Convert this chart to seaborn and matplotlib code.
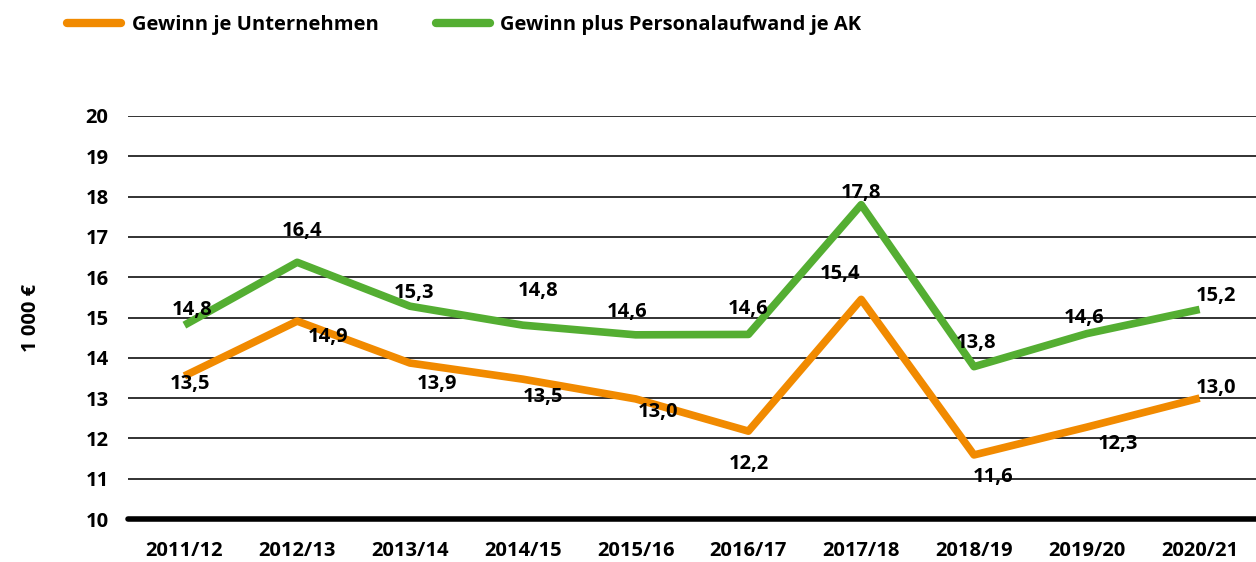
import pandas as pd
import numpy as np
import matplotlib.pyplot as plt
import seaborn as sns

jahre = ["2011/12", "2012/13", "2013/14", "2014/15", "2015/16",
         "2016/17", "2017/18", "2018/19", "2019/20", "2020/21"]
gewinn_unternehmen = [13.55, 14.91, 13.87, 13.47, 12.98, 12.18, 15.45, 11.59, 12.28, 13.0]
gewinn_personal = [14.81, 16.37, 15.28, 14.81, 14.57, 14.58, 17.8, 13.78, 14.6, 15.2]
label_unternehmen = ["13,5", "14,9", "13,9", "13,5", "13,0", "12,2", "15,4", "11,6", "12,3", "13,0"]
label_personal = ["14,8", "16,4", "15,3", "14,8", "14,6", "14,6", "17,8", "13,8", "14,6", "15,2"]
serien = ["Gewinn je Unternehmen", "Gewinn plus Personalaufwand je AK"]

orange = "#F18A00"
gruen = "#54AE32"

df = pd.DataFrame({
    "Jahr": jahre * 2,
    "x": list(range(len(jahre))) * 2,
    "Wert": gewinn_unternehmen + gewinn_personal,
    "Serie": [serien[0]] * len(jahre) + [serien[1]] * len(jahre),
})

sns.set_style("white")
plt.rcParams["font.family"] = ["Open Sans", "DejaVu Sans"]
plt.rcParams["font.weight"] = "bold"
plt.rcParams["text.color"] = "black"
plt.rcParams["axes.labelcolor"] = "black"
plt.rcParams["xtick.color"] = "black"
plt.rcParams["ytick.color"] = "black"

fig = plt.figure(figsize=(12.56, 5.62), dpi=100)
ax = fig.add_axes([0.1019, 0.0765, 0.8981, 0.7171])

# gitterlinien
for v in range(11, 21):
    ax.axhline(v, color="#222222", lw=1.3, zorder=0)
ax.axhline(10, color="black", lw=4, zorder=1, clip_on=False)

sns.lineplot(data=df, x="x", y="Wert", hue="Serie", palette=[orange, gruen],
             linewidth=5.5, ax=ax, legend=False, solid_capstyle="butt")

# beschriftungen (offset in px)
off_u = [(6, -8), (31, -16), (27, -21), (20, -18), (22, -13), (0, -33), (-21, 25), (19, -22), (31, -17), (16, 10)]
off_p = [(8, 15), (5, 31), (4, 13), (15, 34), (-9, 23), (0, 25), (0, 12), (2, 24), (-3, 16), (16, 13)]
for i in range(len(jahre)):
    ax.annotate(label_unternehmen[i], (i, gewinn_unternehmen[i]),
                xytext=(off_u[i][0] * 0.72, off_u[i][1] * 0.72), textcoords="offset points",
                ha="center", va="center", fontsize=14.5, fontweight="bold")
    ax.annotate(label_personal[i], (i, gewinn_personal[i]),
                xytext=(off_p[i][0] * 0.72, off_p[i][1] * 0.72), textcoords="offset points",
                ha="center", va="center", fontsize=14.5, fontweight="bold")

ax.set_xlim(-0.5, 9.5)
ax.set_ylim(10, 20)
ax.set_xticks(range(len(jahre)))
ax.set_xticklabels(jahre)
ax.set_yticks(range(10, 21))
ax.tick_params(axis="both", length=0, labelsize=14.5)
ax.tick_params(axis="x", pad=16)
ax.tick_params(axis="y", pad=14)
for t in ax.get_xticklabels() + ax.get_yticklabels():
    t.set_fontweight("bold")
ax.set_xlabel("")
ax.set_ylabel("1 000 €", fontsize=14.5, fontweight="bold", labelpad=32)
for s in ax.spines.values():
    s.set_visible(False)

handles = [plt.Line2D([], [], color=orange, lw=6, solid_capstyle="round"),
           plt.Line2D([], [], color=gruen, lw=6, solid_capstyle="round")]
fig.legend(handles, serien, loc="upper left", bbox_to_anchor=(0.039, 1.005), ncol=2,
           frameon=False, handlelength=2.7, handletextpad=0.5,
           columnspacing=2.85, prop={"weight": "bold", "size": 14.5})

fig.savefig("out.png", dpi=100)
